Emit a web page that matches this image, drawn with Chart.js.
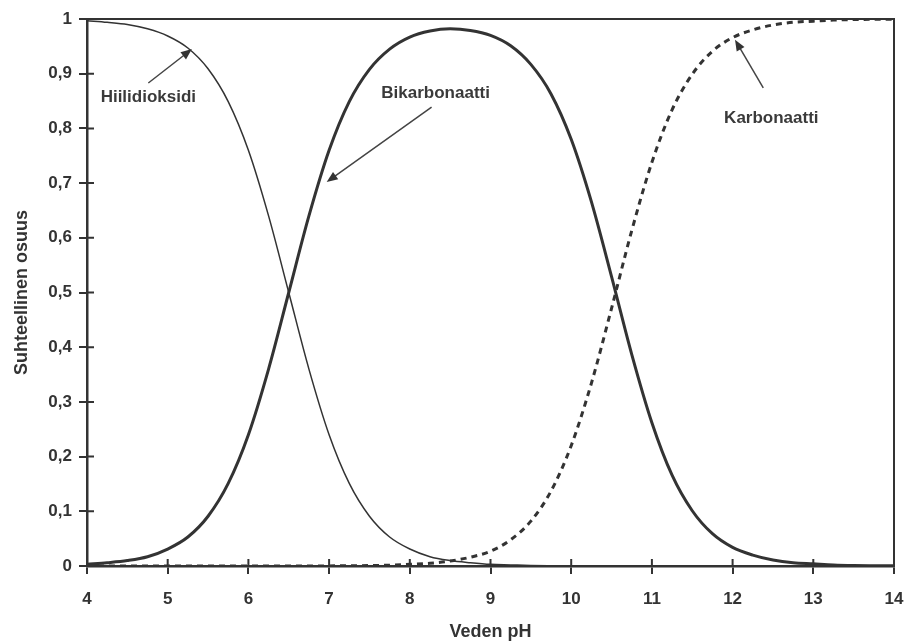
<!DOCTYPE html>
<html>
<head>
<meta charset="utf-8">
<script src="https://cdn.jsdelivr.net/npm/chart.js@4"></script>
<style>
  html, body { margin: 0; padding: 0; background: #fff; }
  #wrap { width: 908px; height: 644px; }
</style>
</head>
<body>
<div id="wrap"><canvas id="co2-chart" width="908" height="644"></canvas></div>
<script>
// values, pH steps of 0.25
var ph = [4, 4.25, 4.5, 4.75, 5, 5.25, 5.5, 5.75, 6, 6.25, 6.5, 6.75, 7, 7.25, 7.5, 7.75,
  8, 8.25, 8.5, 8.75, 9, 9.25, 9.5, 9.75, 10, 10.25, 10.5, 10.75, 11, 11.25, 11.5, 11.75,
  12, 12.25, 12.5, 12.75, 13, 13.25, 13.5, 13.75, 14];
var hiilidioksidi = [0.997, 0.994, 0.990, 0.982, 0.969, 0.947, 0.909, 0.849, 0.760, 0.640, 0.500, 0.360,
  0.240, 0.151, 0.091, 0.053, 0.031, 0.017, 0.010, 0.006, 0.003, 0.002, 0.001, 0.0005, 0.0002, 0,
  0, 0, 0, 0, 0, 0, 0, 0, 0, 0, 0, 0, 0, 0, 0];
var bikarbonaatti = [0.003, 0.006, 0.010, 0.017, 0.031, 0.053, 0.091, 0.151, 0.240, 0.360, 0.500, 0.640,
  0.760, 0.849, 0.908, 0.945, 0.967, 0.978, 0.982, 0.979, 0.970, 0.951, 0.917, 0.863, 0.780, 0.666,
  0.529, 0.387, 0.262, 0.166, 0.101, 0.059, 0.034, 0.020, 0.011, 0.006, 0.004, 0.002, 0.001, 0.0006, 0.0004];
var karbonaatti = [0, 0, 0, 0, 0, 0, 0, 0, 0, 0, 0, 0,
  0.0002, 0.0004, 0.0008, 0.0015, 0.003, 0.005, 0.009, 0.016, 0.027, 0.048, 0.082, 0.137, 0.220, 0.334,
  0.471, 0.613, 0.738, 0.834, 0.899, 0.941, 0.966, 0.980, 0.989, 0.994, 0.996, 0.998, 0.999, 0.9994, 0.9996];
var yTicks = ['0', '0,1', '0,2', '0,3', '0,4', '0,5', '0,6', '0,7', '0,8', '0,9', '1'];

// labels with arrows, in pH / fraction coordinates
var notes = [
  { text: 'Hiilidioksidi', at: [4.76, 0.857], from: [4.76, 0.883], to: [5.30, 0.945] },
  { text: 'Bikarbonaatti', at: [8.32, 0.865], from: [8.27, 0.839], to: [6.97, 0.702] },
  { text: 'Karbonaatti',   at: [12.48, 0.819], from: [12.38, 0.874], to: [12.03, 0.962] }
];

var ink = '#333';
function pts(ys) { return ph.map(function (x, i) { return { x: x, y: ys[i] }; }); }

var decor = {
  id: 'decor',
  afterDatasetsDraw: function (chart) {
    var c = chart.ctx, a = chart.chartArea, sx = chart.scales.x, sy = chart.scales.y;
    c.save();
    c.strokeStyle = ink;
    // top and right edge of the box
    c.lineWidth = 2;
    c.beginPath();
    c.moveTo(a.left, a.top); c.lineTo(a.right, a.top); c.lineTo(a.right, a.bottom);
    c.stroke();
    // tick marks crossing into the plot
    c.lineWidth = 2;
    c.beginPath();
    sy.ticks.forEach(function (t) {
      var y = sy.getPixelForValue(t.value);
      c.moveTo(a.left, y); c.lineTo(a.left + 7, y);
    });
    sx.ticks.forEach(function (t) {
      var x = sx.getPixelForValue(t.value);
      c.moveTo(x, a.bottom); c.lineTo(x, a.bottom - 7);
    });
    c.stroke();
    // notes
    c.font = 'bold 17px "Liberation Sans", Arial, sans-serif';
    c.textAlign = 'center';
    c.textBaseline = 'middle';
    notes.forEach(function (n) {
      c.fillStyle = '#3a3a3a';
      c.fillText(n.text, sx.getPixelForValue(n.at[0]), sy.getPixelForValue(n.at[1]));
      var x0 = sx.getPixelForValue(n.from[0]), y0 = sy.getPixelForValue(n.from[1]);
      var x1 = sx.getPixelForValue(n.to[0]), y1 = sy.getPixelForValue(n.to[1]);
      var ang = Math.atan2(y1 - y0, x1 - x0);
      c.lineWidth = 1.5;
      c.strokeStyle = '#444';
      c.beginPath(); c.moveTo(x0, y0);
      c.lineTo(x1 - 8 * Math.cos(ang), y1 - 8 * Math.sin(ang)); c.stroke();
      c.fillStyle = '#333';
      c.beginPath();
      c.moveTo(x1, y1);
      c.lineTo(x1 - 11 * Math.cos(ang) + 4.5 * Math.sin(ang), y1 - 11 * Math.sin(ang) - 4.5 * Math.cos(ang));
      c.lineTo(x1 - 11 * Math.cos(ang) - 4.5 * Math.sin(ang), y1 - 11 * Math.sin(ang) + 4.5 * Math.cos(ang));
      c.closePath(); c.fill();
    });
    c.restore();
  }
};

var tickFont = { family: '"Liberation Sans", Arial, sans-serif', size: 17, weight: 'bold' };
var titleFont = { family: '"Liberation Sans", Arial, sans-serif', size: 18, weight: 'bold' };

var ctx = document.getElementById('co2-chart').getContext('2d');
var chart = new Chart(ctx, {
  type: 'line',
  data: {
    datasets: [
      { label: 'Hiilidioksidi', data: pts(hiilidioksidi), borderColor: ink, borderWidth: 1.5 },
      { label: 'Bikarbonaatti', data: pts(bikarbonaatti), borderColor: ink, borderWidth: 3 },
      { label: 'Karbonaatti', data: pts(karbonaatti), borderColor: ink, borderWidth: 3, borderDash: [6, 5] }
    ]
  },
  options: {
    responsive: false,
    animation: false,
    layout: { padding: { top: 19, right: 14, left: 0, bottom: 0 } },
    elements: {
      point: { radius: 0 },
      line: { cubicInterpolationMode: 'monotone', fill: false }
    },
    plugins: { legend: { display: false }, tooltip: { enabled: false } },
    scales: {
      x: {
        type: 'linear', min: 4, max: 14,
        afterFit: function (s) { s.height = 78; s.paddingRight = 14; },
        ticks: { stepSize: 1, color: ink, font: tickFont, padding: 15, maxRotation: 0 },
        grid: { drawOnChartArea: false, tickLength: 8, color: ink, lineWidth: 2 },
        border: { color: ink, width: 2.5 },
        title: { display: true, text: 'Veden pH', color: ink, font: titleFont, padding: { top: 0, bottom: 1 } }
      },
      y: {
        min: 0, max: 1,
        afterFit: function (s) { s.width = 87; },
        ticks: {
          stepSize: 0.1, color: ink, font: tickFont, padding: 7,
          callback: function (v, i) { return yTicks[i]; }
        },
        grid: { drawOnChartArea: false, tickLength: 8, color: ink, lineWidth: 2 },
        border: { color: ink, width: 2.5 },
        title: { display: true, text: 'Suhteellinen osuus', color: ink, font: titleFont, padding: { top: 11, bottom: 0 } }
      }
    }
  },
  plugins: [decor]
});
</script>
</body>
</html>
